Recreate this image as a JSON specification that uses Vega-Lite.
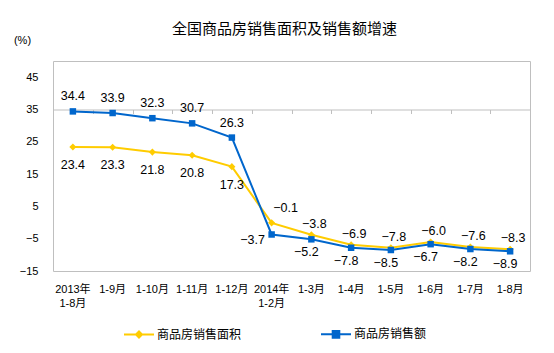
{
  "$schema": "https://vega.github.io/schema/vega-lite/v6.json",
  "width": 477,
  "height": 210,
  "autosize": {"type": "none"},
  "padding": {"left": 53, "top": 61, "right": 24, "bottom": 82},
  "background": "white",
  "config": {
    "view": {"stroke": "#BFBFBF", "strokeWidth": 1},
    "font": "Liberation Sans, Noto Sans CJK SC",
    "axis": {"labelColor": "#000", "labelFont": "Liberation Sans, Noto Sans CJK SC"}
  },
  "title": {
    "text": "全国商品房销售面积及销售额增速",
    "font": "Noto Sans CJK SC",
    "fontSize": 15,
    "fontWeight": "normal",
    "color": "#000",
    "anchor": "middle",
    "frame": "group",
    "dx": -7,
    "offset": -3
  },
  "data": {
    "values": [
      {"month": "2013年 1-8月", "year": 2013, "series": "商品房销售面积", "value": 23.4},
      {"month": "1-9月", "year": 2013, "series": "商品房销售面积", "value": 23.3},
      {"month": "1-10月", "year": 2013, "series": "商品房销售面积", "value": 21.8},
      {"month": "1-11月", "year": 2013, "series": "商品房销售面积", "value": 20.8},
      {"month": "1-12月", "year": 2013, "series": "商品房销售面积", "value": 17.3},
      {"month": "2014年 1-2月", "year": 2014, "series": "商品房销售面积", "value": -0.1},
      {"month": "1-3月", "year": 2014, "series": "商品房销售面积", "value": -3.8},
      {"month": "1-4月", "year": 2014, "series": "商品房销售面积", "value": -6.9},
      {"month": "1-5月", "year": 2014, "series": "商品房销售面积", "value": -7.8},
      {"month": "1-6月", "year": 2014, "series": "商品房销售面积", "value": -6.0},
      {"month": "1-7月", "year": 2014, "series": "商品房销售面积", "value": -7.6},
      {"month": "1-8月", "year": 2014, "series": "商品房销售面积", "value": -8.3},
      {"month": "2013年 1-8月", "year": 2013, "series": "商品房销售额", "value": 34.4},
      {"month": "1-9月", "year": 2013, "series": "商品房销售额", "value": 33.9},
      {"month": "1-10月", "year": 2013, "series": "商品房销售额", "value": 32.3},
      {"month": "1-11月", "year": 2013, "series": "商品房销售额", "value": 30.7},
      {"month": "1-12月", "year": 2013, "series": "商品房销售额", "value": 26.3},
      {"month": "2014年 1-2月", "year": 2014, "series": "商品房销售额", "value": -3.7},
      {"month": "1-3月", "year": 2014, "series": "商品房销售额", "value": -5.2},
      {"month": "1-4月", "year": 2014, "series": "商品房销售额", "value": -7.8},
      {"month": "1-5月", "year": 2014, "series": "商品房销售额", "value": -8.5},
      {"month": "1-6月", "year": 2014, "series": "商品房销售额", "value": -6.7},
      {"month": "1-7月", "year": 2014, "series": "商品房销售额", "value": -8.2},
      {"month": "1-8月", "year": 2014, "series": "商品房销售额", "value": -8.9}
    ]
  },
  "encoding": {
    "x": {"field": "month", "type": "nominal", "sort": null,
          "scale": {"type": "band", "paddingInner": 0, "paddingOuter": 0}},
    "y": {"field": "value", "type": "quantitative",
          "scale": {"domain": [-15, 50], "nice": false, "zero": false},
          "axis": {"values": [-15, -5, 5, 15, 25, 35, 45], "grid": false, "domain": false,
                   "ticks": false, "labelPadding": 15, "labelFontSize": 11,
                   "title": "(%)", "titleAngle": 0, "titleFontSize": 11, "titleFontWeight": "normal",
                   "titleColor": "#000", "titleFont": "Liberation Sans", "titleX": -31, "titleY": -21,
                   "titleAlign": "center", "titleBaseline": "middle"}},
    "color": {"field": "series", "type": "nominal",
              "scale": {"domain": ["商品房销售面积", "商品房销售额"], "range": ["#FFCC00", "#0066CC"]}}
  },
  "layer": [
    {
      "mark": {"type": "line", "strokeWidth": 2},
      "encoding": {
        "x": {"field": "month", "type": "nominal", "sort": null,
              "axis": {"title": null, "domain": false, "ticks": false, "labelAngle": 0,
                       "labelFontSize": 11, "labelPadding": 12, "labelLineHeight": 14,
                       "labelExpr": "split(datum.label, ' ')", "labelBaseline": "top"}},
        "color": {"field": "series", "type": "nominal",
                  "legend": {"title": null, "orient": "none", "direction": "horizontal",
                             "legendX": 70, "legendY": 257, "columnPadding": 75,
                             "labelFont": "Noto Sans CJK SC", "labelFontSize": 12, "labelColor": "#000",
                             "labelOffset": 2, "symbolSize": 900, "symbolStrokeWidth": 2,
                             "encode": {"symbols": {"update": {
                               "shape": {"signal": "datum.value == '商品房销售面积' ? 'M-1,0L1,0M-0.2,0L0,-0.2L0.2,0L0,0.2Z' : 'M-1,0L1,0M-0.22,-0.22L0.22,-0.22L0.22,0.22L-0.22,0.22Z'"},
                               "fill": {"signal": "datum.value == '商品房销售面积' ? '#FFCC00' : '#0066CC'"}
                             }}}}}
      }
    },
    {
      "transform": [{"filter": "datum.series == '商品房销售面积'"}],
      "mark": {"type": "point", "filled": true, "opacity": 1, "shape": "diamond", "size": 50},
      "encoding": {
        "x": {"field": "month", "type": "nominal", "sort": null,
              "axis": {"title": null, "labels": false, "offset": -48.5, "domain": true,
                       "domainColor": "#BFBFBF", "ticks": true, "tickBand": "extent",
                       "tickSize": -4, "tickColor": "#BFBFBF"}},
        "color": {"field": "series", "type": "nominal", "legend": null}
      }
    },
    {
      "transform": [{"filter": "datum.series == '商品房销售额'"}],
      "mark": {"type": "point", "filled": true, "opacity": 1, "shape": "square", "size": 42},
      "encoding": {
        "x": {"field": "month", "type": "nominal", "sort": null, "axis": null},
        "color": {"field": "series", "type": "nominal", "legend": null}
      }
    },
    {
      "transform": [{"filter": "datum.year == 2013 && datum.series == '商品房销售额'"}],
      "mark": {"type": "text", "dy": -15, "fontSize": 12.5, "color": "#000", "font": "Liberation Sans"},
      "encoding": {"x": {"field": "month", "type": "nominal", "sort": null, "axis": null},
                   "text": {"field": "value", "type": "quantitative", "format": ".1f"}, "color": {"value": "#000"}}
    },
    {
      "transform": [{"filter": "datum.year == 2013 && datum.series == '商品房销售面积'"}],
      "mark": {"type": "text", "dy": 18, "fontSize": 12.5, "color": "#000", "font": "Liberation Sans"},
      "encoding": {"x": {"field": "month", "type": "nominal", "sort": null, "axis": null},
                   "text": {"field": "value", "type": "quantitative", "format": ".1f"}, "color": {"value": "#000"}}
    },
    {
      "transform": [{"filter": "datum.month == '2014年 1-2月' && datum.series == '商品房销售面积'"}],
      "mark": {"type": "text", "dx": 14, "dy": -15, "fontSize": 12.5, "color": "#000", "font": "Liberation Sans"},
      "encoding": {"x": {"field": "month", "type": "nominal", "sort": null, "axis": null},
                   "text": {"field": "value", "type": "quantitative", "format": ".1f"}, "color": {"value": "#000"}}
    },
    {
      "transform": [{"filter": "datum.month == '2014年 1-2月' && datum.series == '商品房销售额'"}],
      "mark": {"type": "text", "dx": -19, "dy": 6, "fontSize": 12.5, "color": "#000", "font": "Liberation Sans"},
      "encoding": {"x": {"field": "month", "type": "nominal", "sort": null, "axis": null},
                   "text": {"field": "value", "type": "quantitative", "format": ".1f"}, "color": {"value": "#000"}}
    },
    {
      "transform": [{"filter": "datum.year == 2014 && datum.month != '2014年 1-2月' && datum.series == '商品房销售面积'"}],
      "mark": {"type": "text", "dx": 3, "dy": -11, "fontSize": 12.5, "color": "#000", "font": "Liberation Sans"},
      "encoding": {"x": {"field": "month", "type": "nominal", "sort": null, "axis": null},
                   "text": {"field": "value", "type": "quantitative", "format": ".1f"}, "color": {"value": "#000"}}
    },
    {
      "transform": [{"filter": "datum.year == 2014 && datum.month != '2014年 1-2月' && datum.series == '商品房销售额'"}],
      "mark": {"type": "text", "dx": -5, "dy": 13, "fontSize": 12.5, "color": "#000", "font": "Liberation Sans"},
      "encoding": {"x": {"field": "month", "type": "nominal", "sort": null, "axis": null},
                   "text": {"field": "value", "type": "quantitative", "format": ".1f"}, "color": {"value": "#000"}}
    }
  ],
  "resolve": {"axis": {"x": "independent"}}
}
